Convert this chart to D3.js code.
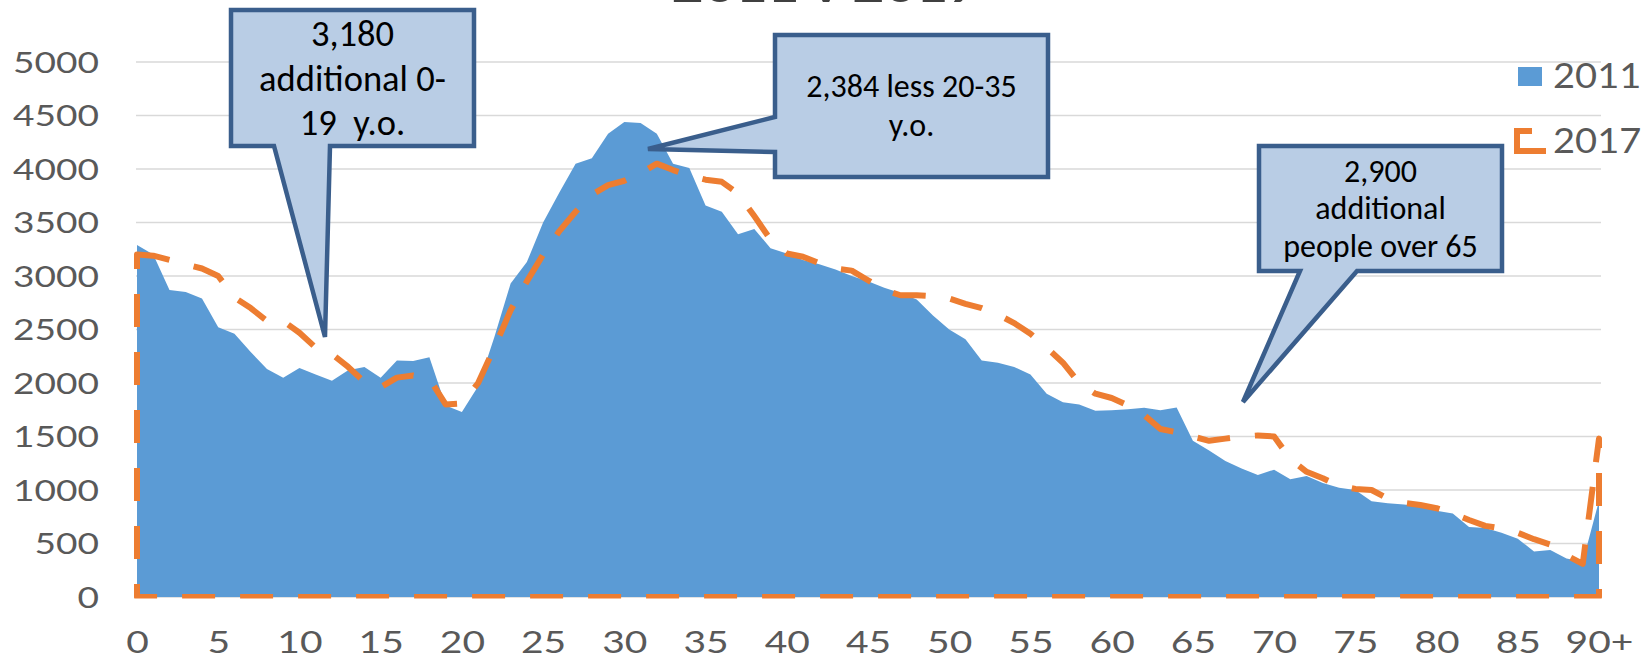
<!DOCTYPE html>
<html>
<head>
<meta charset="utf-8">
<script src="https://cdn.jsdelivr.net/npm/d3@7"></script>
<style>
  html, body { margin: 0; padding: 0; background: #ffffff; }
  svg { display: block; }
  text { white-space: pre; }
</style>
</head>
<body>
<svg id="chart" width="1646" height="659"></svg>
<script>
// Population by single year of age, 2011 census vs 2017 estimate
const ageLabels = d3.range(0, 90).map(String).concat(["90+"]);

const pop2011 = [
  3290, 3200, 2870, 2850, 2790, 2520, 2460, 2290, 2130, 2050,
  2140, 2080, 2020, 2120, 2150, 2050, 2210, 2205, 2240, 1790,
  1730, 1970, 2430, 2930, 3130, 3500, 3780, 4050, 4100, 4330,
  4440, 4430, 4330, 4050, 4010, 3660, 3600, 3390, 3440, 3260,
  3210, 3150, 3110, 3060, 3000, 2950, 2890, 2840, 2780, 2630,
  2500, 2410, 2210, 2190, 2150, 2080, 1900, 1820, 1800, 1740,
  1746, 1755, 1768, 1746, 1770, 1460, 1370, 1270, 1200, 1140,
  1190, 1100, 1130, 1065, 1020, 1000, 895, 877, 865, 845,
  805, 780, 655, 645, 600, 545, 425, 440, 360, 330,
  900
];

const pop2017 = [
  3200, 3190, 3150, 3110, 3070, 3000, 2800, 2700, 2580, 2580,
  2470, 2330, 2270, 2150, 2010, 1960, 2050, 2070, 2040, 1800,
  1810, 2000, 2330, 2680, 2950, 3200, 3420, 3600, 3760, 3850,
  3890, 3960, 4050, 3990, 3940, 3900, 3880, 3770, 3560, 3340,
  3210, 3180, 3120, 3070, 3050, 2960, 2870, 2820, 2820, 2810,
  2790, 2740, 2700, 2640, 2560, 2460, 2330, 2190, 2000, 1900,
  1860, 1790, 1700, 1570, 1540, 1500, 1460, 1480, 1500, 1510,
  1500, 1290, 1170, 1110, 1040, 1010, 1000, 920, 880, 860,
  830, 780, 720, 665, 640, 600, 540, 490, 390, 310,
  1480
];

const yTickValues = [0, 500, 1000, 1500, 2000, 2500, 3000, 3500, 4000, 4500, 5000];
const xTickLabels = ["0", "5", "10", "15", "20", "25", "30", "35", "40", "45",
                     "50", "55", "60", "65", "70", "75", "80", "85", "90+"];

const seriesNames = ["2011", "2017"];
const titleText = "2011 v 2017";

const callouts = [
  { lines: ["3,180", "additional 0-", "19  y.o."] },
  { lines: ["2,384 less 20-35", "y.o."] },
  { lines: ["2,900", "additional", "people over 65"] }
];

// ---- layout ----
const plot = { left: 137, right: 1599, top: 62, bottom: 597 };
const BLUE = "#5B9BD5", ORANGE = "#ED7D31", GRID = "#D9D9D9", LABEL = "#595959";
const CALLOUT_FILL = "#B9CDE5", CALLOUT_STROKE = "#3A5E8C";

const svg = d3.select("#chart");

const x = d3.scalePoint().domain(ageLabels).range([plot.left, plot.right]);
const y = d3.scaleLinear().domain([0, 5000]).range([plot.bottom, plot.top]);

// title (runs off the top edge of the canvas)
svg.append("text")
  .attr("x", 826).attr("y", 2)
  .attr("text-anchor", "middle")
  .attr("font-family", "Lato, sans-serif")
  .attr("font-weight", 700)
  .attr("font-size", 44)
  .attr("fill", "#404040")
  .attr("transform", "translate(826,0) scale(1.25,1) translate(-826,0)")
  .text(titleText);

// gridlines
svg.append("g").selectAll("line")
  .data(yTickValues)
  .join("line")
  .attr("x1", plot.left - 1).attr("x2", plot.right + 2)
  .attr("y1", d => y(d)).attr("y2", d => y(d))
  .attr("stroke", GRID).attr("stroke-width", 1.5);

// 2011 filled area
const area2011 = d3.area()
  .x((d, i) => x(ageLabels[i]))
  .y0(y(0))
  .y1(d => y(d));

svg.append("path")
  .datum(pop2011)
  .attr("d", area2011)
  .attr("fill", BLUE);

// 2017 area: outline only, long-dash border
svg.append("clipPath").attr("id", "plotClip")
  .append("rect")
  .attr("x", plot.left - 10).attr("y", 0)
  .attr("width", plot.right - plot.left + 20).attr("height", plot.bottom + 1.5);

svg.append("path")
  .datum(pop2017)
  .attr("clip-path", "url(#plotClip)")
  .attr("d", area2011)
  .attr("fill", "none")
  .attr("stroke", ORANGE)
  .attr("stroke-width", 6)
  .attr("stroke-dasharray", "33,25")
  .attr("stroke-linejoin", "round");

// y axis labels
const yAxis = svg.append("g")
  .attr("transform", `translate(99,0)`)
  .call(d3.axisLeft(y).tickValues(yTickValues).tickFormat(d3.format("d"))
    .tickSize(0).tickPadding(0));
yAxis.select(".domain").remove();
yAxis.selectAll("text")
  .attr("x", 0).attr("dy", "0.36em")
  .attr("font-family", "Lato, sans-serif")
  .attr("font-size", 28.5)
  .attr("fill", LABEL)
  .attr("transform", "scale(1.3,1)");

// x axis labels
const xAxis = svg.append("g")
  .attr("transform", `translate(0,642.5)`)
  .call(d3.axisBottom(x).tickValues(xTickLabels).tickSize(0).tickPadding(0));
xAxis.select(".domain").remove();
xAxis.selectAll("text")
  .attr("y", 0).attr("dy", "0.36em")
  .attr("font-family", "Lato, sans-serif")
  .attr("font-size", 30)
  .attr("fill", LABEL)
  .attr("transform", "scale(1.3,1)");

// legend
const legend = svg.append("g");
legend.append("rect")
  .attr("x", 1518).attr("y", 67).attr("width", 24).attr("height", 19)
  .attr("fill", BLUE);
legend.append("path")
  .attr("d", "M1532,131 H1517 V151 H1546")
  .attr("fill", "none").attr("stroke", ORANGE).attr("stroke-width", 6);
legend.selectAll("text")
  .data(seriesNames)
  .join("text")
  .attr("x", 1553).attr("y", (d, i) => [76, 141][i])
  .attr("dy", "0.36em")
  .attr("font-family", "Lato, sans-serif")
  .attr("font-size", 34)
  .attr("fill", LABEL)
  .attr("transform", "translate(1553,0) scale(1.12,1) translate(-1553,0)")
  .text(d => d);

// callouts
const calloutShapes = [
  { d: "M231,10 H474 V146 H330 L325,337 L274,146 H231 Z", cx: 352.5, baselines: [45.5, 90.5, 135], size: 36.5 },
  { d: "M775,35 H1048 V177 H775 V152 L648,149 L775,117 Z", cx: 911.5, baselines: [97, 135.5], size: 32 },
  { d: "M1259,146 H1502 V271 H1357 L1243,402 L1300,271 H1259 Z", cx: 1380.5, baselines: [181.5, 219, 256.5], size: 32 }
];

calloutShapes.forEach((c, k) => {
  const g = svg.append("g");
  g.append("path")
    .attr("d", c.d)
    .attr("fill", CALLOUT_FILL)
    .attr("stroke", CALLOUT_STROKE)
    .attr("stroke-width", 4.5)
    .attr("stroke-linejoin", "miter");
  g.selectAll("text")
    .data(callouts[k].lines)
    .join("text")
    .attr("x", c.cx)
    .attr("y", (d, i) => c.baselines[i])
    .attr("text-anchor", "middle")
    .attr("font-family", "Carlito, Calibri, Lato, sans-serif")
    .attr("font-size", c.size)
    .attr("fill", "#000000")
    .text(d => d);
});
</script>
</body>
</html>
